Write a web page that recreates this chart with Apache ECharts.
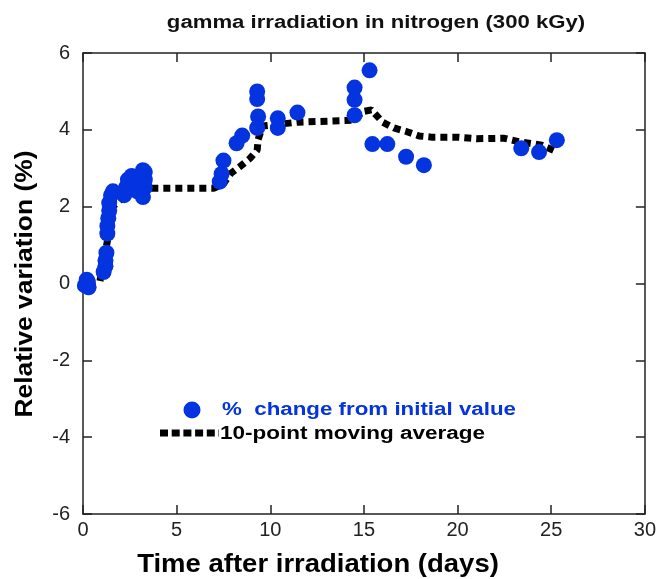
<!DOCTYPE html>
<html><head><meta charset="utf-8">
<script src="https://cdn.jsdelivr.net/npm/echarts@6/dist/echarts.min.js"></script>
<style>html,body{margin:0;padding:0;background:#fff}#c{width:659px;height:579px}</style>
</head><body><div id="c"></div>
<script>
// % change from initial value (days, %)
const changeDays = [0.1,0.2,0.3,0.25, 1.1,1.2,1.2,1.25, 1.3,1.3,1.35,1.4,1.4,1.5,1.6, 2.2,2.3,2.4,2.6,2.8,2.9, 3.2,3.3,3.3,3.3,3.2,
  7.3,7.4,7.5, 8.2,8.5, 9.3,9.3,9.35,9.3, 10.4,10.4,11.45,
  14.5,14.5,14.5,15.3,15.45,16.25,17.25,18.2, 23.4,24.35,25.3];
const changeVals = [-0.05,0.1,-0.1,0.05, 0.3,0.45,0.6,0.8, 1.3,1.5,1.7,1.9,2.1,2.3,2.4, 2.3,2.5,2.7,2.8,2.6,2.4, 2.25,2.5,2.7,2.9,2.95,
  2.65,2.85,3.2, 3.65,3.85, 5.0,4.8,4.35,4.05, 4.3,4.05,4.45,
  5.1,4.78,4.38,5.55,3.63,3.63,3.3,3.08, 3.52,3.42,3.73];
// 10-point moving average
const avgDays = [0.3,0.9,1.3,1.6,2.5,3.6,7.0,7.5,7.9,8.4,8.9,9.3,9.35,9.6,11.5,14.5,14.9,15.4,16.0,16.6,17.3,17.95,18.6,20.0,21.0,22.5,23.2,24.5,25.2];
const avgVals = [0.0,0.05,1.1,2.0,2.4,2.48,2.48,2.6,2.87,3.05,3.25,3.47,3.75,4.1,4.2,4.25,4.47,4.52,4.2,4.05,3.95,3.84,3.81,3.81,3.77,3.78,3.7,3.6,3.45];
const xTicks = [0,5,10,15,20,25,30];
const yTicks = [-6,-4,-2,0,2,4,6];

const ch = echarts.init(document.getElementById('c'));
const FONT = '"Liberation Sans", Arial, sans-serif';
const BLUE = '#0433e0';
const lbl = {fontFamily: FONT, fontSize: 20, color: '#222'};
const axLine = {show: true, onZero: false, lineStyle: {color: '#222', width: 1.5}};
const tick = {show: true, inside: true, length: 9, lineStyle: {color: '#222', width: 1.5}};
ch.setOption({
  animation: false,
  grid: {left: 83, right: 13, top: 53, bottom: 65},
  xAxis: [
    {type: 'value', min: xTicks[0], max: xTicks[xTicks.length-1], interval: 5, position: 'bottom',
     axisLine: axLine, axisTick: tick, splitLine: {show: false},
     axisLabel: Object.assign({margin: 6}, lbl)},
    {type: 'value', min: 0, max: 30, interval: 5, position: 'top',
     axisLine: axLine, axisTick: tick, splitLine: {show: false}, axisLabel: {show: false}}
  ],
  yAxis: [
    {type: 'value', min: yTicks[0], max: yTicks[yTicks.length-1], interval: 2, position: 'left',
     axisLine: axLine, axisTick: tick, splitLine: {show: false},
     axisLabel: Object.assign({margin: 13}, lbl)},
    {type: 'value', min: -6, max: 6, interval: 2, position: 'right',
     axisLine: axLine, axisTick: tick, splitLine: {show: false}, axisLabel: {show: false}}
  ],
  series: [
    {type: 'line', name: '10-point moving average', data: avgDays.map((d,i)=>[d, avgVals[i]]),
     showSymbol: false, symbol: 'none', z: 2,
     lineStyle: {color: '#000', width: 7, type: [7,5], cap: 'butt'}},
    {type: 'scatter', name: '% change from initial value', data: changeDays.map((d,i)=>[d, changeVals[i]]),
     symbol: 'circle', symbolSize: 16, z: 3, itemStyle: {color: BLUE, opacity: 1}}
  ],
  graphic: [
    {type: 'text', x: 376, y: 23, scaleX: 1.23, z: 10,
     style: {text: 'gamma irradiation in nitrogen (300 kGy)', fill: '#111', align: 'center', verticalAlign: 'middle',
       font: 'bold 18px "Liberation Sans", Arial, sans-serif'}},
    {type: 'text', x: 318, y: 565, scaleX: 1.1, z: 10,
     style: {text: 'Time after irradiation (days)', fill: '#000', align: 'center', verticalAlign: 'middle',
       font: 'bold 25px "Liberation Sans", Arial, sans-serif'}},
    {type: 'text', x: 25, y: 284, rotation: Math.PI/2, scaleX: 1.1, z: 10,
     style: {text: 'Relative variation (%)', fill: '#000', align: 'center', verticalAlign: 'middle',
       font: 'bold 24px "Liberation Sans", Arial, sans-serif'}},
    {type: 'circle', shape: {cx: 192, cy: 410, r: 8.5}, style: {fill: BLUE}},
    {type: 'text', x: 222, y: 410, scaleX: 1.24,
     style: {text: '%  change from initial value', fill: BLUE, align: 'left', verticalAlign: 'middle',
      font: 'bold 18px "Liberation Sans", Arial, sans-serif'}},
    {type: 'line', shape: {x1: 160, y1: 433, x2: 219, y2: 433},
      style: {stroke: '#000', lineWidth: 7, lineDash: [8,3.7]}},
    {type: 'text', x: 220, y: 434, scaleX: 1.25,
     style: {text: '10-point moving average', fill: '#000', align: 'left', verticalAlign: 'middle',
      font: 'bold 18px "Liberation Sans", Arial, sans-serif'}}
  ]
});
</script></body></html>
